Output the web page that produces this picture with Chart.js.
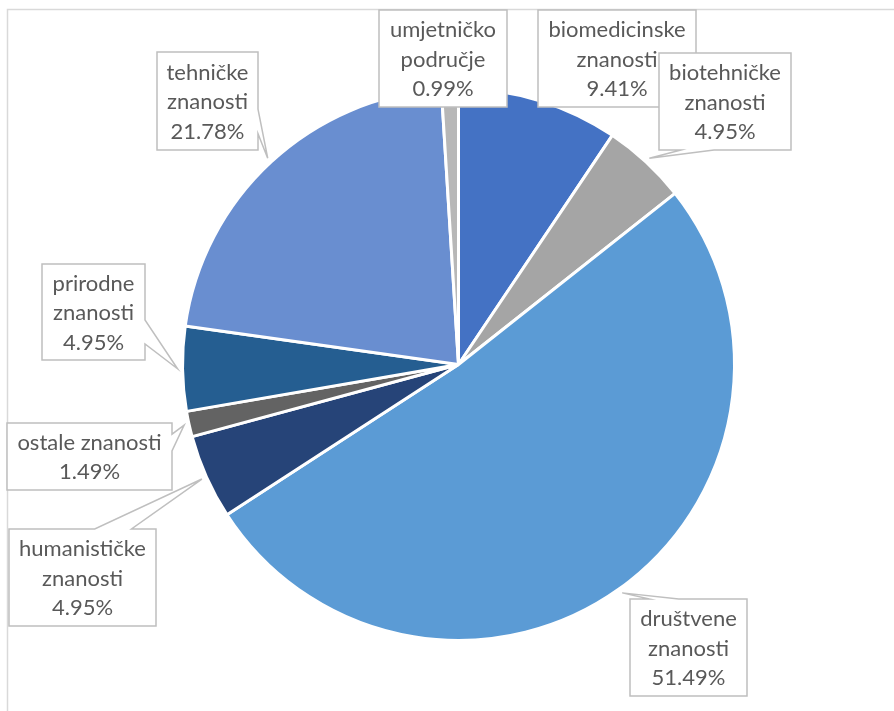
<!DOCTYPE html>
<html>
<head>
<meta charset="utf-8">
<script src="https://cdn.jsdelivr.net/npm/chart.js@4.4.1/dist/chart.umd.min.js"></script>
<style>
  html, body { margin: 0; padding: 0; background: #fff; }
  #wrap { width: 894px; height: 711px; position: relative; }
</style>
</head>
<body>
<div id="wrap"><canvas id="pie"></canvas></div>
<script>
// data
const categories = [
  'biomedicinske znanosti',
  'biotehničke znanosti',
  'društvene znanosti',
  'humanističke znanosti',
  'ostale znanosti',
  'prirodne znanosti',
  'tehničke znanosti',
  'umjetničko područje'
];
const shares = [9.41, 4.95, 51.49, 4.95, 1.49, 4.95, 21.78, 0.99];
const sliceColors = ['#4472C4', '#A5A5A5', '#5B9BD5', '#264478', '#636363', '#255E91', '#698ED0', '#B7B7B7'];

// label boxes: x, y, w, h, edge the pointer leaves from
const labelBoxes = [
  [538, 10, 158, 97, 'none'],
  [659, 53, 132, 97, 'bottom'],
  [630, 599, 117, 97, 'top'],
  [9, 529, 147, 97, 'top'],
  [7, 423, 165, 67, 'right'],
  [42, 264, 103, 96, 'right'],
  [157, 52, 101, 98, 'right'],
  [379, 10, 128, 97, 'none']
];

const FONT = '22px Lato';
const TEXT_COLOR = '#595959';
const LINE_H = 29.5;

function wrapWords(ctx, text, maxW) {
  const words = text.split(' ');
  const lines = [];
  let cur = '';
  words.forEach(w => {
    const t = cur ? cur + ' ' + w : w;
    if (cur && ctx.measureText(t).width > maxW) { lines.push(cur); cur = w; }
    else cur = t;
  });
  if (cur) lines.push(cur);
  return lines;
}

function calloutPath(ctx, x, y, w, h, edge, tip) {
  const cx = x + w / 2, cy = y + h / 2;
  const fr = (low) => low ? [2 / 12, 5 / 12] : [7 / 12, 10 / 12];
  ctx.beginPath();
  ctx.moveTo(x, y);
  if (edge === 'top') {
    const f = fr(tip.x < cx);
    ctx.lineTo(x + w * f[0], y); ctx.lineTo(tip.x, tip.y); ctx.lineTo(x + w * f[1], y);
  }
  ctx.lineTo(x + w, y);
  if (edge === 'right') {
    const f = fr(tip.y < cy);
    ctx.lineTo(x + w, y + h * f[0]); ctx.lineTo(tip.x, tip.y); ctx.lineTo(x + w, y + h * f[1]);
  }
  ctx.lineTo(x + w, y + h);
  if (edge === 'bottom') {
    const f = fr(tip.x < cx);
    ctx.lineTo(x + w * f[1], y + h); ctx.lineTo(tip.x, tip.y); ctx.lineTo(x + w * f[0], y + h);
  }
  ctx.lineTo(x, y + h);
  if (edge === 'left') {
    const f = fr(tip.y < cy);
    ctx.lineTo(x, y + h * f[1]); ctx.lineTo(tip.x, tip.y); ctx.lineTo(x, y + h * f[0]);
  }
  ctx.closePath();
}

const frameAndCallouts = {
  id: 'frameAndCallouts',
  beforeDraw(chart) {
    const ctx = chart.ctx;
    ctx.save();
    ctx.strokeStyle = '#D9D9D9';
    ctx.lineWidth = 1.5;
    ctx.strokeRect(7.5, 9.5, 1000, 1000);
    ctx.restore();
  },
  afterDraw(chart) {
    const ctx = chart.ctx;
    const arcs = chart.getDatasetMeta(0).data;
    ctx.save();
    ctx.font = FONT;
    arcs.forEach((arc, i) => {
      const p = arc.getProps(['x', 'y', 'startAngle', 'endAngle', 'outerRadius'], true);
      const mid = (p.startAngle + p.endAngle) / 2;
      const tip = { x: p.x + Math.cos(mid) * (p.outerRadius + 5), y: p.y + Math.sin(mid) * (p.outerRadius + 5) };
      const [bx, by, bw, bh, edge] = labelBoxes[i];
      calloutPath(ctx, bx, by, bw, bh, edge, tip);
      ctx.fillStyle = '#fff';
      ctx.fill();
      ctx.strokeStyle = '#BFBFBF';
      ctx.lineWidth = 1.5;
      ctx.stroke();

      const lines = wrapWords(ctx, categories[i], bw - 6);
      lines.push(shares[i].toFixed(2) + '%');
      ctx.fillStyle = TEXT_COLOR;
      ctx.textAlign = 'center';
      ctx.textBaseline = 'middle';
      const top = by + bh / 2 - (lines.length - 1) * LINE_H / 2 + 1;
      lines.forEach((ln, k) => ctx.fillText(ln, bx + bw / 2, top + k * LINE_H));
    });
    ctx.restore();
  }
};

new Chart(document.getElementById('pie'), {
  type: 'pie',
  data: {
    labels: categories,
    datasets: [{
      data: shares,
      backgroundColor: sliceColors,
      borderColor: '#ffffff',
      borderWidth: 3
    }]
  },
  options: {
    responsive: true,
    maintainAspectRatio: false,
    animation: false,
    layout: { padding: { left: 181, right: 158, top: 87, bottom: 69 } },
    plugins: {
      legend: { display: false },
      tooltip: { enabled: false }
    }
  },
  plugins: [frameAndCallouts]
});
</script>
</body>
</html>
